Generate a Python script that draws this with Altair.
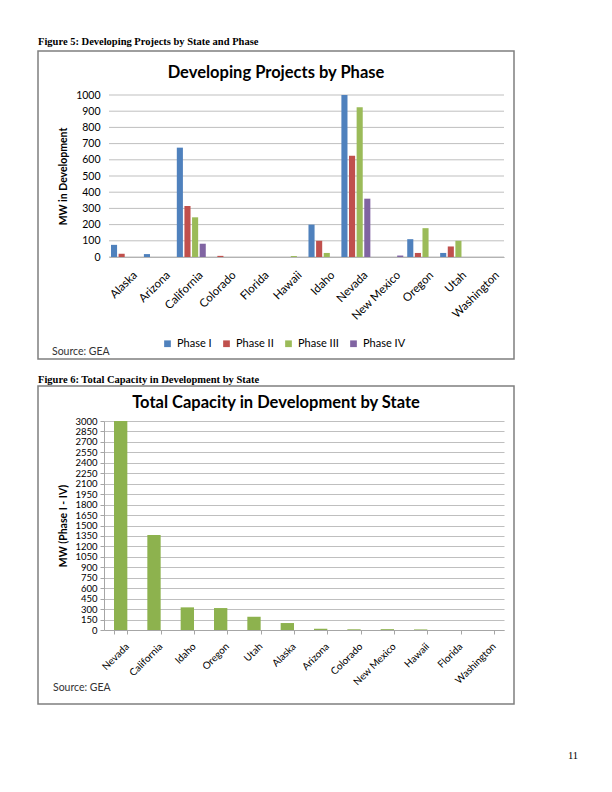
import altair as alt
import pandas as pd

states = ["Alaska", "Arizona", "California", "Colorado", "Florida", "Hawaii",
          "Idaho", "Nevada", "New Mexico", "Oregon", "Utah", "Washington"]
phases = ["Phase I", "Phase II", "Phase III", "Phase IV"]
phase1 = [75, 18, 675, 0, 0, 0, 200, 1000, 0, 110, 25, 0]
phase2 = [20, 0, 315, 7, 0, 0, 100, 625, 0, 25, 65, 0]
phase3 = [0, 0, 245, 0, 0, 6, 25, 925, 0, 178, 100, 0]
phase4 = [0, 0, 82, 0, 0, 0, 0, 360, 9, 0, 0, 0]
phase_colors = ["#4F81BD", "#C0504D", "#9BBB59", "#8064A2"]
ticks1 = list(range(0, 1001, 100))

total_states = ["Nevada", "California", "Idaho", "Oregon", "Utah", "Alaska",
                "Arizona", "Colorado", "New Mexico", "Hawaii", "Florida", "Washington"]
total_mw = [3000, 1365, 325, 315, 190, 100, 18, 10, 12, 8, 0, 0]
ticks2 = list(range(0, 3001, 150))

caption1 = "Figure 5: Developing Projects by State and Phase"
caption2 = "Figure 6: Total Capacity in Development by State"
title1 = "Developing Projects by Phase"
title2 = "Total Capacity in Development by State"
source = "Source: GEA"
page_no = "11"

FONT = "Lato"
SERIF = "Liberation Serif"

rows = []
for vals, ph in zip([phase1, phase2, phase3, phase4], phases):
    for s, v in zip(states, vals):
        rows.append({"State": s, "Phase": ph, "MW": v})
df1 = pd.DataFrame(rows)
df2 = pd.DataFrame({"State": total_states, "MW": total_mw})
one = pd.DataFrame({"a": [0]})


def label(text, x, y, size, font=FONT, weight="normal", align="left", color="#000000"):
    return alt.Chart(one).mark_text(
        text=text, font=font, fontSize=size, fontWeight=weight, align=align,
        baseline="alphabetic", color=color
    ).encode(x=alt.value(x), y=alt.value(y))


def border(x1, x2, y1, y2):
    return alt.Chart(one).mark_rect(
        fillOpacity=0, stroke="#7f7f7f", strokeWidth=1.5
    ).encode(x=alt.value(x1), x2=alt.value(x2), y=alt.value(y1), y2=alt.value(y2))


# ---------- Panel 1 (origin at page x 103, plot bars from +5) ----------
W1, H1 = 400, 162
y1 = alt.Y("MW:Q", scale=alt.Scale(domain=[0, 1000], nice=False),
           axis=alt.Axis(title="MW in Development", values=ticks1,
                         format="d", grid=False,
                         labelFont=FONT, labelFontSize=10.5, labelColor="#000000",
                         ticks=False, domain=False, labelPadding=4,
                         titleFont=FONT, titleFontSize=10.5,
                         titleFontWeight="bold", titleX=-36, titleColor="#000000"))

grid1 = alt.Chart(pd.DataFrame({"MW": ticks1})).mark_rule(
    color="#bfbfbf", strokeWidth=1
).encode(y=y1, x=alt.value(5), x2=alt.value(W1))

bars1 = alt.Chart(df1).mark_bar().encode(
    x=alt.X("State:N", sort=states,
            scale=alt.Scale(range=[5, W1], paddingInner=0.12, paddingOuter=0.06),
            axis=alt.Axis(title=None, labelAngle=-45, labelFont=FONT, labelFontSize=11.5,
                          labelColor="#000000", ticks=False, domainColor="#a6a6a6",
                          labelPadding=12, labelOffset=6, grid=False)),
    xOffset=alt.XOffset("Phase:N", sort=phases, scale=alt.Scale(paddingInner=0.2)),
    y=y1,
    color=alt.Color("Phase:N", sort=phases,
                    scale=alt.Scale(domain=phases, range=phase_colors),
                    legend=alt.Legend(title=None, orient="none", direction="horizontal",
                                      legendX=58, legendY=243, symbolType="square",
                                      symbolSize=45, labelFont=FONT, labelFontSize=11,
                                      labelColor="#000000", columnPadding=9,
                                      symbolStrokeWidth=0))
)
panel1 = alt.layer(
    border(-66, 410, -44, 264),
    grid1,
    label(caption1, -66, -50, 10.5, font=SERIF, weight="bold"),
    label(title1, 172, -17, 16.5, weight="bold", align="center"),
    label(source, -52, 260, 10.5, color="#333333"),
    bars1,
).properties(width=W1, height=H1)

# ---------- Panel 2 ----------
W2, H2 = 400, 209
bars2 = alt.Chart(df2).mark_bar(color="#8DB24E").encode(
    x=alt.X("State:N", sort=total_states,
            scale=alt.Scale(paddingInner=0.6, paddingOuter=0.3),
            axis=alt.Axis(title=None, labelAngle=-45, labelFont=FONT, labelFontSize=10,
                          labelColor="#000000", ticks=True, tickBand="extent",
                          tickSize=4, tickColor="#a6a6a6", domainColor="#a6a6a6",
                          labelPadding=7, labelOffset=3, grid=False)),
    y=alt.Y("MW:Q", scale=alt.Scale(domain=[0, 3000], nice=False),
            axis=alt.Axis(title="MW (Phase I - IV)", values=ticks2,
                          format="d",
                          labelFont=FONT, labelFontSize=9.5, labelColor="#000000",
                          ticks=True, tickSize=4, tickColor="#a6a6a6",
                          domain=True, domainColor="#a6a6a6", labelPadding=3,
                          gridColor="#bfbfbf", titleFont=FONT, titleFontSize=10.5,
                          titleFontWeight="bold", titleX=-36, titleColor="#000000")),
)
panel2 = alt.layer(
    border(-66, 410, -35, 283),
    label(caption2, -66, -38, 10.5, font=SERIF, weight="bold"),
    label(title2, 172, -13, 16.5, weight="bold", align="center"),
    label(source, -51, 270, 10.5, color="#333333"),
    label(page_no, 464, 338, 10.5, font=SERIF),
    bars2,
).properties(width=W2, height=H2)

chart = alt.concat(panel1, panel2, columns=1, spacing=15, align="none").properties(
    padding={"left": 29, "top": 29, "right": 0, "bottom": 0}
).configure_view(stroke=None)

chart.save("out.html", embed_options={"renderer": "svg", "actions": False})
